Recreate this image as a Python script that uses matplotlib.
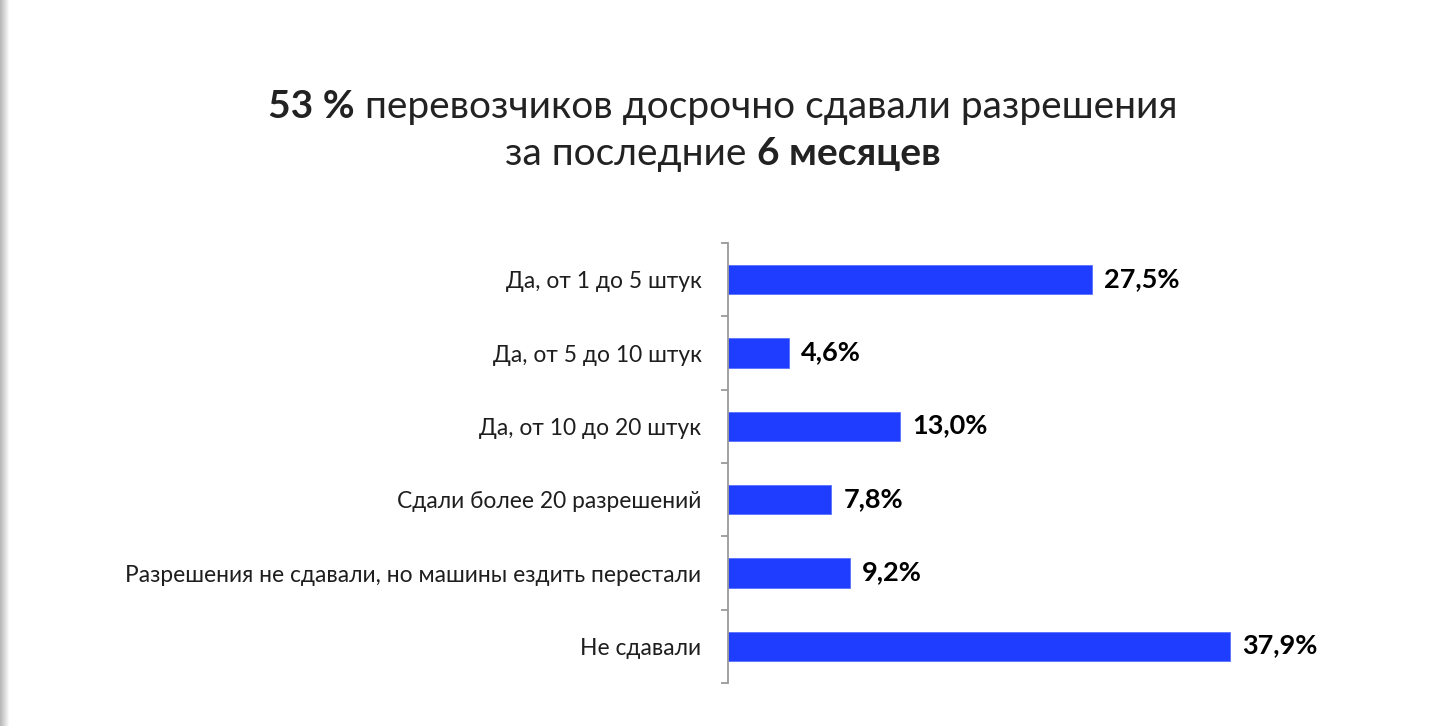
import numpy as np
import matplotlib.pyplot as plt

plt.rcParams['font.family'] = ['Lato', 'DejaVu Sans']

categories = ['Да, от 1 до 5 штук', 'Да, от 5 до 10 штук', 'Да, от 10 до 20 штук',
              'Сдали более 20 разрешений', 'Разрешения не сдавали, но машины ездить перестали',
              'Не сдавали']
values = [27.5, 4.6, 13.0, 7.8, 9.2, 37.9]
value_labels = ['27,5%', '4,6%', '13,0%', '7,8%', '9,2%', '37,9%']

title_line1 = [('53 %', 'bold'), (' перевозчиков досрочно сдавали разрешения', 'normal')]
title_line2 = [('за последние ', 'normal'), ('6 месяцев', 'bold')]

W, H = 1442, 726
fig = plt.figure(figsize=(W / 100, H / 100), dpi=100)
fig.patch.set_facecolor('white')

# shadow on the left edge
sh = fig.add_axes([0, 0, 10 / W, 1])
grad = np.linspace(0.72, 1.0, 10)[None, :]
sh.imshow(grad, cmap='gray', vmin=0, vmax=1, aspect='auto', extent=(0, 1, 0, 1))
sh.axis('off')

x0, x1 = 728, 1430
ax = fig.add_axes([x0 / W, 1 - 683 / H, (x1 - x0) / W, 440 / H])
y = np.arange(len(categories))
ax.barh(y, values, height=0.4, color='#1f3dff', edgecolor='#5a70ff', linewidth=0.6)
ax.set_xlim(0, (x1 - x0) / 13.24)
ax.set_ylim(len(categories) - 0.5, -0.5)

for yi, v, lab in zip(y, values, value_labels):
    ax.annotate(lab, (v, yi), xytext=(12, 1), textcoords='offset pixels',
                ha='left', va='center', fontsize=19.5, fontweight='bold', color='black')

ax.set_yticks(y)
ax.set_yticklabels(categories, fontsize=16.4, color='#1e1e1e')
ax.set_yticks(np.arange(-0.5, len(categories)), minor=True)
ax.tick_params(axis='y', which='major', length=0, pad=19)
ax.tick_params(axis='y', which='minor', length=5, width=1.3, color='#9a9a9a', direction='out')
ax.set_xticks([])
for s in ['top', 'right', 'bottom']:
    ax.spines[s].set_visible(False)
ax.spines['left'].set_color('#9a9a9a')
ax.spines['left'].set_linewidth(1.3)


def centered_line(pieces, yc, size):
    renderer = fig.canvas.get_renderer()
    texts = [fig.text(0, yc, t, fontsize=size, fontweight=w, color='#222222',
                      ha='left', va='baseline') for t, w in pieces]
    widths = [t.get_window_extent(renderer).width for t in texts]
    x = (723 - sum(widths) / 2)
    for t, wd in zip(texts, widths):
        t.set_x(x / W)
        x += wd


fig.canvas.draw()
centered_line(title_line1, 1 - 118 / H, 28)
centered_line(title_line2, 1 - 165 / H, 28)

fig.savefig('out.png', dpi=100)
